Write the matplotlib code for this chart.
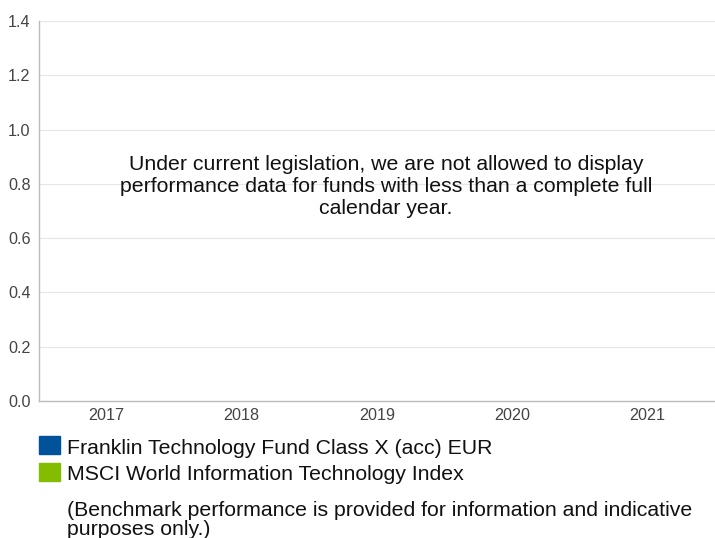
import numpy as np
import matplotlib
matplotlib.use("Agg")
import matplotlib.pyplot as plt
from matplotlib.patches import Rectangle

plt.rcParams["font.family"] = ["Liberation Sans", "DejaVu Sans"]

# ── 数据 ──
years = ["2017", "2018", "2019", "2020", "2021"]
fund_returns = [np.nan, np.nan, np.nan, np.nan, np.nan]       # 无数据
benchmark_returns = [np.nan, np.nan, np.nan, np.nan, np.nan]  # 无数据
y_ticks = [0.0, 0.2, 0.4, 0.6, 0.8, 1.0, 1.2, 1.4]
series_names = ["Franklin Technology Fund Class X (acc) EUR",
                "MSCI World Information Technology Index"]
series_colors = ["#00529b", "#84bd00"]
notice = ("Under current legislation, we are not allowed to display\n"
          "performance data for funds with less than a complete full\n"
          "calendar year.")
footnote = ("(Benchmark performance is provided for information and indicative\n"
            "purposes only.)")

W, H = 715, 538
fig = plt.figure(figsize=(W / 100, H / 100), dpi=100)
ax = fig.add_axes([39 / W, 1 - 401 / H, 1 - 39 / W, (401 - 21) / H])

x = np.arange(len(years))
ax.bar(x - 0.15, fund_returns, width=0.3, color=series_colors[0])
ax.bar(x + 0.15, benchmark_returns, width=0.3, color=series_colors[1])

ax.set_xlim(-0.5, len(years) - 0.5)
ax.set_ylim(0, 1.4)
ax.set_yticks(y_ticks)
ax.set_yticklabels([f"{v:.1f}" for v in y_ticks])
ax.set_xticks(x)
ax.set_xticklabels(years)
ax.tick_params(axis="y", length=0, pad=6, labelsize=11.6, labelcolor="#444444")
ax.tick_params(axis="x", length=0, pad=5, labelsize=11.6, labelcolor="#444444")
ax.grid(axis="y", color="#e6e6e6", linewidth=0.8)
ax.set_axisbelow(True)
for s in ["top", "right"]:
    ax.spines[s].set_visible(False)
for s in ["left", "bottom"]:
    ax.spines[s].set_color("#bbbbbb")
    ax.spines[s].set_linewidth(1.0)

ax.text(0.513, 0.564, notice, transform=ax.transAxes, ha="center", va="center",
        fontsize=15.3, color="#111111", linespacing=1.18)

# ── 图例 ──
for i, (name, col) in enumerate(zip(series_names, series_colors)):
    yc = 446 + i * 27
    fig.patches.append(Rectangle((39 / W, 1 - (yc + 8) / H), 21 / W, 18 / H,
                                 transform=fig.transFigure, color=col))
    fig.text(67 / W, 1 - (yc + 2) / H, name, ha="left", va="center",
             fontsize=15.3, color="#111111")

fig.text(67 / W, 1 - 520 / H, footnote, ha="left", va="center",
         fontsize=15.3, color="#111111", linespacing=1.06)

fig.savefig("out.png", dpi=100)
